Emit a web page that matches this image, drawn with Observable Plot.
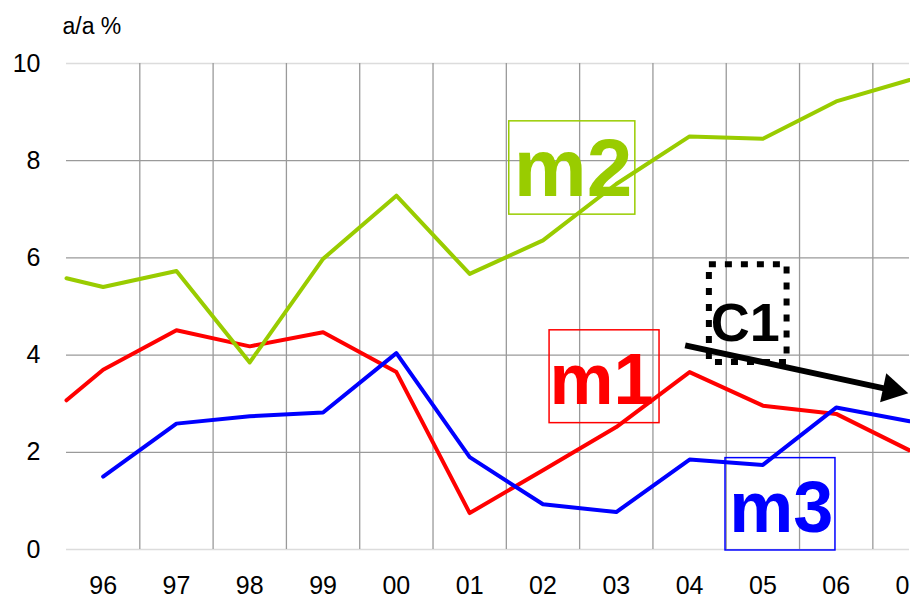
<!DOCTYPE html>
<html><head><meta charset="utf-8">
<script src="https://cdn.jsdelivr.net/npm/d3@7"></script>
<script src="https://cdn.jsdelivr.net/npm/@observablehq/plot@0.6"></script>
<style>
body{margin:0;background:#fff;}
svg{font-family:"Liberation Sans",Arial,Helvetica,sans-serif;}
</style>
</head><body><div id="chart"></div>
<script>
// x positions (year, 96 = 1996 ... 107 = 2007); first value sits half a year before 96
const years = [95.5, 96, 97, 98, 99, 100, 101, 102, 103, 104, 105, 106, 107];
const m1 = [3.07, 3.70, 4.51, 4.18, 4.47, 3.65, 0.75, 1.63, 2.52, 3.65, 2.96, 2.79, 2.04];
const m2 = [5.58, 5.40, 5.73, 3.85, 5.98, 7.28, 5.67, 6.36, 7.52, 8.50, 8.45, 9.22, 9.66];
const m3 = [null, 1.50, 2.59, 2.74, 2.82, 4.04, 1.90, 0.93, 0.77, 1.85, 1.74, 2.92, 2.64];
const seriesColors = {m1: "#ff0000", m2: "#99cc00", m3: "#0000ff"};

const xTicks = [96, 97, 98, 99, 100, 101, 102, 103, 104, 105, 106, 107];
const xGrid = [96.5, 97.5, 98.5, 99.5, 100.5, 101.5, 102.5, 103.5, 104.5, 105.5, 106.5];
const yTicks = [0, 2, 4, 6, 8, 10];
const yInnerGrid = [2, 4, 6, 8];
const yBorder = [0, 10];
const unitLabel = "a/a %";

// annotation labels (in data coordinates)
const labelNames = ["m2", "m1", "m3"];
const labelX = [102.41, 102.80, 105.25];
const labelY = [7.82, 3.46, 0.83];
const labelSize = [82, 72, 72];
const boxX1 = [101.54, 102.09, 104.49];
const boxX2 = [103.26, 103.59, 105.99];
const boxY1 = [6.89, 2.60, -0.02];
const boxY2 = [8.81, 4.51, 1.88];

const c1Label = "C1";
const c1Pos = {x: 104.76, y: 4.64};
const c1Box = {x1: 104.27, x2: 105.33, y1: 3.85, y2: 5.86};
const arrowShaft = {x1: 103.94, y1: 4.20, x2: 106.70, y2: 3.30};
const arrowHead = {x: 106.755, y: 3.29};

const rows = s => years.map((x, i) => ({x, v: s === "m1" ? m1[i] : s === "m2" ? m2[i] : m3[i]}));

const marks = [
  Plot.ruleY(yBorder, {stroke: "#dcdcdc", strokeWidth: 1.3}),
  Plot.ruleY(yInnerGrid, {stroke: "#9a9a9a", strokeWidth: 1.3}),
  Plot.ruleX(xGrid, {y1: 0, y2: 10, stroke: "#9a9a9a", strokeWidth: 1.3}),
  Plot.text([unitLabel], {frameAnchor: "top-left", dx: -4, dy: -30, textAnchor: "start", lineAnchor: "bottom", fontSize: 23}),
];
labelNames.forEach((name, i) => {
  marks.push(Plot.rect([i], {x1: boxX1[i], x2: boxX2[i], y1: boxY1[i], y2: boxY2[i], fill: "none", stroke: seriesColors[name], strokeWidth: 1.5}));
});
marks.push(
  Plot.line(rows("m1"), {x: "x", y: "v", stroke: seriesColors.m1, strokeWidth: 4}),
  Plot.line(rows("m3"), {x: "x", y: "v", stroke: seriesColors.m3, strokeWidth: 4}),
  Plot.line(rows("m2"), {x: "x", y: "v", stroke: seriesColors.m2, strokeWidth: 4})
);
labelNames.forEach((name, i) => {
  marks.push(Plot.text([name], {x: labelX[i], y: labelY[i], text: d => d, fill: seriesColors[name], fontSize: labelSize[i], fontWeight: "bold", textAnchor: "middle", lineAnchor: "middle"}));
});
marks.push(
  Plot.rect([c1Box], {x1: "x1", x2: "x2", y1: "y1", y2: "y2", fill: "none", stroke: "black", strokeWidth: 6, strokeDasharray: "7,9"}),
  Plot.text([c1Label], {x: c1Pos.x, y: c1Pos.y, text: d => d, fill: "black", fontSize: 54, fontWeight: "bold", textAnchor: "middle", lineAnchor: "middle"}),
  Plot.link([arrowShaft], {x1: "x1", y1: "y1", x2: "x2", y2: "y2", stroke: "black", strokeWidth: 6}),
  Plot.dot([arrowHead], {x: "x", y: "y", symbol: "triangle", r: 11, fill: "black", stroke: null, rotate: 102})
);

const chart = Plot.plot({
  width: 910,
  height: 598,
  marginLeft: 66,
  marginRight: 1,
  marginTop: 63,
  marginBottom: 49,
  style: {fontSize: "25px", fontFamily: "'Liberation Sans', Arial, sans-serif", color: "#000", background: "#fff"},
  x: {type: "linear", domain: [95.5, 107], ticks: xTicks, tickFormat: d => String(d % 100).padStart(2, "0"), tickSize: 0, tickPadding: 27, label: null},
  y: {domain: [0, 10], ticks: yTicks, tickSize: 0, tickPadding: 26, label: null},
  marks
});
document.getElementById("chart").appendChild(chart);
</script>
</body></html>
